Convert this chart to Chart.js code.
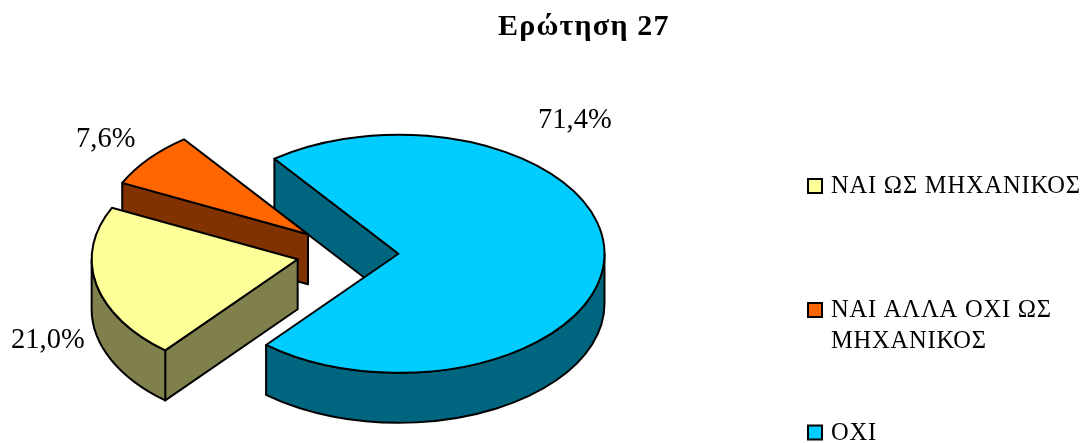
<!DOCTYPE html>
<html>
<head>
<meta charset="utf-8">
<title>Ερώτηση 27</title>
<script src="https://cdn.jsdelivr.net/npm/chart.js@4"></script>
<style>
    html, body { margin: 0; padding: 0; background: #fff; }
    canvas { display: block; }
</style>
</head>
<body>
<canvas id="chart-q27" width="1085" height="443"></canvas>
<script>
const chartTitle = 'Ερώτηση 27';
const categories = [['ΝΑΙ ΩΣ ΜΗΧΑΝΙΚΟΣ'], ['ΝΑΙ ΑΛΛΑ ΟΧΙ ΩΣ', 'ΜΗΧΑΝΙΚΟΣ'], ['ΟΧΙ']];
const shares = [21.0, 7.6, 71.4];
const shareLabels = ['21,0%', '7,6%', '71,4%'];

const topColors = ['#ffff99', '#ff6600', '#00ccff'];
const sideColors = ['#80804d', '#803300', '#006680'];

// where the labels sit, by hand like in the original
const labelSpots = [[11, 348], [76, 147], [538, 128]];
const legendSpots = [186, 310, 432.5];

const FONT = '"Liberation Serif", "Times New Roman", serif';
const SQUASH = 0.578; // tilt of the pie
const DEPTH = 50;
const EXPLODE = 51;
const CENTER_Y = 253;
const TWO_PI = Math.PI * 2;

// flat position of a slice on the page, from the arc element itself
const sliceShape = (arc) => {
    const { x, y, startAngle, endAngle, outerRadius } = arc.getProps(['x', 'y', 'startAngle', 'endAngle', 'outerRadius'], true);
    return {
        x: x,
        y: CENTER_Y + (y - CENTER_Y) * SQUASH,
        rx: outerRadius,
        ry: outerRadius * SQUASH,
        start: startAngle,
        end: endAngle
    };
};

const paintWall = (ctx, color) => {
    ctx.closePath();
    ctx.fillStyle = color;
    ctx.fill();
    ctx.stroke();
};

const drawFace = (ctx, s, angle, color) => {
    const ex = s.x + Math.cos(angle) * s.rx;
    const ey = s.y + Math.sin(angle) * s.ry;
    ctx.beginPath();
    ctx.moveTo(s.x, s.y);
    ctx.lineTo(ex, ey);
    ctx.lineTo(ex, ey + DEPTH);
    ctx.lineTo(s.x, s.y + DEPTH);
    paintWall(ctx, color);
};

const drawRim = (ctx, s, color) => {
    // only the front half of the ellipse can be seen
    for (let k = 0; k < 2; k++) {
        const a0 = Math.max(s.start, k * TWO_PI);
        const a1 = Math.min(s.end, k * TWO_PI + Math.PI);
        if (a1 <= a0) continue;
        ctx.beginPath();
        ctx.ellipse(s.x, s.y, s.rx, s.ry, 0, a0, a1);
        ctx.ellipse(s.x, s.y + DEPTH, s.rx, s.ry, 0, a1, a0, true);
        paintWall(ctx, color);
    }
};

const drawText = (ctx, text, x, y, font, spacing) => {
    ctx.font = font;
    ctx.letterSpacing = (spacing || 0) + 'px';
    ctx.fillStyle = '#000';
    ctx.textAlign = 'left';
    ctx.textBaseline = 'alphabetic';
    ctx.fillText(text, x, y);
    ctx.letterSpacing = '0px';
};

const pie3d = {
    id: 'pie3d',
    afterDatasetsUpdate(chart) {
        // the arc "offset" option also grows the radius unevenly, so pull the slices apart here
        chart.getDatasetMeta(0).data.forEach((arc) => {
            const mid = (arc.startAngle + arc.endAngle) / 2;
            arc.x += Math.cos(mid) * EXPLODE;
            arc.y += Math.sin(mid) * EXPLODE;
        });
    },
    beforeDatasetsDraw(chart) {
        const ctx = chart.ctx;
        const arcs = chart.getDatasetMeta(0).data;
        ctx.save();
        ctx.strokeStyle = '#000';
        ctx.lineWidth = 2;
        ctx.lineJoin = 'round';
        // back to front: blue, orange, yellow
        for (let i = arcs.length - 1; i >= 0; i--) {
            const s = sliceShape(arcs[i]);
            if (Math.cos(s.start) < 0) drawFace(ctx, s, s.start, sideColors[i]);
            if (Math.cos(s.end) > 0) drawFace(ctx, s, s.end, sideColors[i]);
            drawRim(ctx, s, sideColors[i]);
        }
        ctx.restore();
        // the library's own arcs get drawn flattened
        ctx.save();
        ctx.translate(0, CENTER_Y);
        ctx.scale(1, SQUASH);
        ctx.translate(0, -CENTER_Y);
    },
    afterDatasetsDraw(chart) {
        const ctx = chart.ctx;
        ctx.restore();
        const arcs = chart.getDatasetMeta(0).data;

        ctx.save();
        ctx.strokeStyle = '#000';
        ctx.lineWidth = 2;
        ctx.lineJoin = 'round';
        arcs.forEach((arc) => {
            const s = sliceShape(arc);
            ctx.beginPath();
            ctx.moveTo(s.x, s.y);
            ctx.ellipse(s.x, s.y, s.rx, s.ry, 0, s.start, s.end);
            ctx.closePath();
            ctx.stroke();
        });
        ctx.restore();

        drawText(ctx, chartTitle, 498, 35, 'bold 30px ' + FONT, 1.2);
        shareLabels.forEach((label, i) => {
            drawText(ctx, label, labelSpots[i][0], labelSpots[i][1], '28.5px ' + FONT);
        });

        categories.forEach((lines, i) => {
            const top = legendSpots[i];
            ctx.fillStyle = topColors[i];
            ctx.strokeStyle = '#000';
            ctx.lineWidth = 2;
            ctx.fillRect(808, top - 7, 14, 14);
            ctx.strokeRect(808, top - 7, 14, 14);
            lines.forEach((line, n) => {
                drawText(ctx, line, 831, top + 7 + n * 30.5, '24.5px ' + FONT, 0.8);
            });
        });
    }
};

new Chart(document.getElementById('chart-q27'), {
    type: 'pie',
    data: {
        labels: categories,
        datasets: [{
            data: shares,
            backgroundColor: topColors,
            borderWidth: 0,
            clip: false
        }]
    },
    options: {
        responsive: false,
        animation: false,
        rotation: 220,
        radius: 206,
        layout: { padding: { left: 0, right: 390, top: 63, bottom: 0 } },
        plugins: { legend: { display: false }, title: { display: false }, tooltip: { enabled: false } }
    },
    plugins: [pie3d]
});
</script>
</body>
</html>
